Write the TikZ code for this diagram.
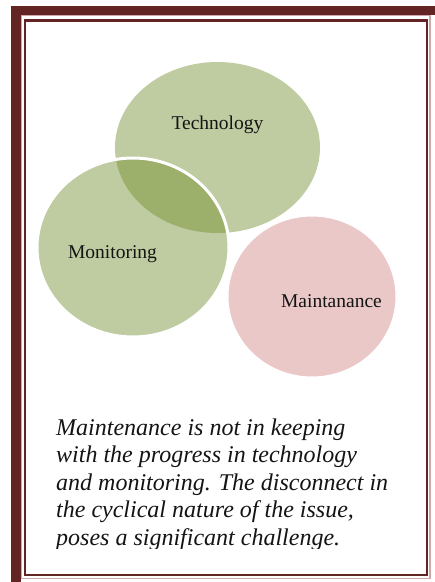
\documentclass[tikz,border=0pt]{standalone}
\usepackage{fontspec}
\setmainfont{Liberation Serif}[ItalicFont=Liberation Serif Italic]
\usetikzlibrary{shapes.geometric}

\definecolor{framedark}{HTML}{632523}
\definecolor{framelight}{HTML}{CFA9A9}
\definecolor{leafgreen}{HTML}{BFCBA0}
\definecolor{leafdark}{HTML}{9CAF6B}
\definecolor{rosepink}{HTML}{EBC8C8}
\definecolor{inktext}{HTML}{141414}

\tikzset{
  bubble/.style={ellipse, inner sep=0pt, outer sep=0pt},
  bubblelabel/.style={text=inktext, inner sep=0pt, font=\fontsize{19.5}{23}\selectfont},
  noteline/.style={anchor=base west, inner sep=0pt, text=inktext,
    font=\fontsize{24}{27.5}\selectfont\itshape},
}

\begin{document}
\begin{tikzpicture}[x=1pt, y=-1pt]
  \useasboundingbox (0,0) rectangle (435,582);

  % page border: thick band, light rule, thin rule
  \fill[framedark] (11,6) rectangle (435,15);
  \fill[framedark] (11,6) rectangle (20.5,582);
  \draw[framelight, line width=1.3] (21.2,15.7) rectangle (430,578.6);
  \draw[framedark, line width=2.6] (24.8,20.3) rectangle (426.8,574.8);

  % bubbles
  \node[bubble, fill=leafgreen, minimum width=205, minimum height=171] (tech) at (217.5,147.5) {};
  \node[bubble, fill=leafgreen, minimum width=192, minimum height=179] (mon) at (133,247.5) {};
  \begin{scope}
    \clip (tech.center) ellipse [x radius=102.5, y radius=85.5];
    \fill[leafdark] (mon.center) ellipse [x radius=96, y radius=89.5];
  \end{scope}
  \draw[white, line width=3] (mon.center) ellipse [x radius=96, y radius=89.5];
  \node[bubble, fill=rosepink, draw=white, line width=3, minimum width=170, minimum height=163] (maint) at (312,296.5) {};

  % bubble captions
  \node[bubblelabel] (techtext) at (217.5,125) {Technology};
  \node[bubblelabel] (montext) at (112.5,254) {Monitoring};
  \node[bubblelabel] (mainttext) at (331.5,301) {Maintanance};

  % note below the bubbles, cut off at the bottom of its box
  \begin{scope}
    \clip (30,400) rectangle (420,548);
    \node[noteline] (note1) at (56,435) {Maintenance is not in keeping};
    \node[noteline] (note2) at (56,462.5) {with the progress in technology};
    \node[noteline] (note3) at (56,490) {and monitoring. The disconnect in};
    \node[noteline] (note4) at (56,517.5) {the cyclical nature of the issue,};
    \node[noteline] (note5) at (56,545) {poses a significant challenge.};
  \end{scope}
\end{tikzpicture}
\end{document}
